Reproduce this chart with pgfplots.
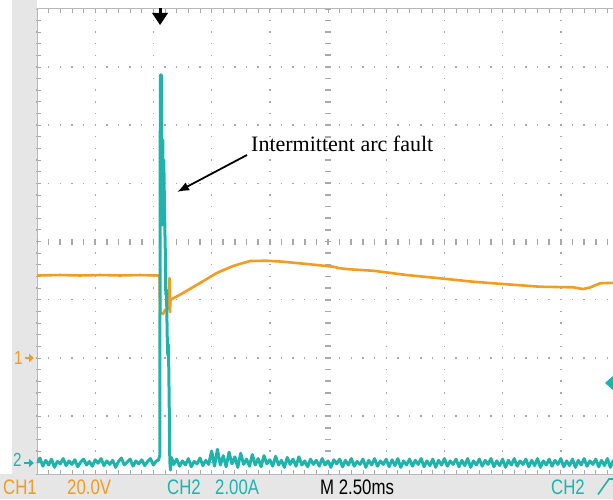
\documentclass[border=0pt]{standalone}
\usepackage{pgfplots}
\pgfplotsset{compat=1.18}
\usepackage{pgfplotstable}
\usepackage{fontspec}
\setmainfont{Liberation Serif}
\newfontfamily\scopefont[FakeStretch=0.8]{Liberation Sans}
\usetikzlibrary{arrows.meta}
\definecolor{ch1}{HTML}{F39C1F}
\definecolor{ch2}{HTML}{1FB3AD}
\definecolor{bezel}{HTML}{E6E6E6}
\definecolor{gridgray}{HTML}{A8A8A8}

% screen units: x and y in divisions (2.50 ms/div, CH1 20.0 V/div, CH2 2.00 A/div)
\pgfplotstableread{
x y
0.000 -0.584
0.395 -0.576
0.739 -0.584
1.082 -0.576
1.426 -0.584
1.770 -0.576
2.079 -0.584
2.105 -0.590
2.113 -1.211
2.165 -1.246
2.199 -1.177
2.250 -1.150
2.277 -0.627
2.285 -1.211
2.294 -1.005
2.320 -0.988
2.509 -0.885
2.801 -0.713
3.088 -0.541
3.368 -0.421
3.660 -0.335
3.947 -0.330
4.227 -0.347
4.519 -0.375
4.806 -0.404
5.086 -0.433
5.206 -0.460
5.378 -0.478
5.773 -0.502
6.352 -0.576
6.924 -0.632
7.491 -0.691
8.070 -0.735
8.643 -0.777
9.210 -0.787
9.381 -0.816
9.502 -0.790
9.674 -0.718
9.950 -0.708
}\chone

\pgfplotstableread{
x y
0.00 -3.80
0.05 -3.72
0.10 -3.86
0.15 -3.76
0.20 -3.84
0.25 -3.74
0.30 -3.88
0.35 -3.78
0.40 -3.82
0.45 -3.73
0.50 -3.85
0.55 -3.77
0.60 -3.83
0.65 -3.75
0.70 -3.87
0.75 -3.79
0.80 -3.74
0.85 -3.84
0.90 -3.78
0.95 -3.86
1.00 -3.75
1.05 -3.81
1.10 -3.73
1.15 -3.85
1.20 -3.77
1.25 -3.83
1.30 -3.76
1.35 -3.88
1.40 -3.78
1.45 -3.72
1.50 -3.84
1.55 -3.79
1.60 -3.74
1.65 -3.86
1.70 -3.77
1.75 -3.82
1.80 -3.75
1.85 -3.85
1.90 -3.78
1.95 -3.73
2.00 -3.84
2.05 -3.77
2.088 -3.754
2.110 -3.668
2.119 2.861
2.136 2.861
2.144 1.572
2.153 0.284
2.162 1.744
2.170 0.455
2.179 1.400
2.191 0.541
2.204 -0.146
2.213 -0.919
2.225 -0.833
2.237 -1.607
2.247 -1.950
2.259 -1.778
2.271 -2.723
2.282 -3.789
2.294 -3.926
2.311 -3.711
2.35 -3.83
2.40 -3.74
2.45 -3.86
2.50 -3.77
2.55 -3.84
2.60 -3.73
2.65 -3.87
2.70 -3.78
2.75 -3.82
2.80 -3.72
2.85 -3.85
2.90 -3.76
2.95 -3.83
3.00 -3.60
3.05 -3.86
3.10 -3.57
3.15 -3.84
3.20 -3.68
3.25 -3.87
3.30 -3.62
3.35 -3.82
3.40 -3.70
3.45 -3.88
3.50 -3.64
3.55 -3.83
3.60 -3.74
3.65 -3.86
3.70 -3.66
3.75 -3.84
3.80 -3.73
3.85 -3.87
3.90 -3.68
3.95 -3.82
4.00 -3.75
4.05 -3.86
4.10 -3.69
4.15 -3.84
4.20 -3.76
4.25 -3.88
4.30 -3.71
4.35 -3.83
4.40 -3.74
4.45 -3.86
4.50 -3.70
4.55 -3.84
4.60 -3.77
4.65 -3.87
4.70 -3.74
4.75 -3.83
4.80 -3.76
4.85 -3.86
4.90 -3.73
4.95 -3.84
5.00 -3.77
5.05 -3.88
5.10 -3.75
5.15 -3.82
5.20 -3.74
5.25 -3.87
5.30 -3.76
5.35 -3.84
5.40 -3.73
5.45 -3.86
5.50 -3.78
5.55 -3.83
5.60 -3.74
5.65 -3.88
5.70 -3.76
5.75 -3.84
5.80 -3.73
5.85 -3.86
5.90 -3.77
5.95 -3.83
6.00 -3.74
6.05 -3.87
6.10 -3.75
6.15 -3.85
6.20 -3.73
6.25 -3.88
6.30 -3.77
6.35 -3.84
6.40 -3.74
6.45 -3.86
6.50 -3.76
6.55 -3.83
6.60 -3.73
6.65 -3.87
6.70 -3.77
6.75 -3.85
6.80 -3.74
6.85 -3.88
6.90 -3.76
6.95 -3.84
7.00 -3.73
7.05 -3.86
7.10 -3.77
7.15 -3.83
7.20 -3.74
7.25 -3.87
7.30 -3.76
7.35 -3.85
7.40 -3.73
7.45 -3.88
7.50 -3.77
7.55 -3.84
7.60 -3.74
7.65 -3.86
7.70 -3.76
7.75 -3.83
7.80 -3.73
7.85 -3.87
7.90 -3.77
7.95 -3.85
8.00 -3.74
8.05 -3.88
8.10 -3.76
8.15 -3.84
8.20 -3.73
8.25 -3.86
8.30 -3.77
8.35 -3.83
8.40 -3.74
8.45 -3.87
8.50 -3.76
8.55 -3.85
8.60 -3.73
8.65 -3.88
8.70 -3.77
8.75 -3.84
8.80 -3.74
8.85 -3.86
8.90 -3.76
8.95 -3.83
9.00 -3.73
9.05 -3.87
9.10 -3.77
9.15 -3.85
9.20 -3.74
9.25 -3.88
9.30 -3.76
9.35 -3.84
9.40 -3.73
9.45 -3.86
9.50 -3.77
9.55 -3.83
9.60 -3.74
9.65 -3.87
9.70 -3.76
9.75 -3.85
9.80 -3.73
9.85 -3.88
9.90 -3.77
9.95 -3.84
}\chtwo

\begin{document}
\begin{tikzpicture}[x=1pt,y=1pt]
\useasboundingbox (0pt,0pt) rectangle (613pt,499pt);
% bezel strips
\fill[bezel] (12pt,24.7pt) rectangle (37pt,499pt);
\fill[bezel] (0pt,0pt) rectangle (613pt,24.7pt);

\begin{axis}[
  at={(37pt,24.7pt)}, anchor=south west,
  scale only axis,
  width=582pt, height=465.6pt,
  xmin=0, xmax=10, ymin=-4, ymax=4,
  xtick={0,...,10}, ytick={-4,...,4},
  minor tick num=4,
  xticklabels={}, yticklabels={},
  tick align=inside, tick pos=both,
  major tick length=4pt, minor tick length=4pt,
  tick style={gridgray, line width=0.8pt},
  axis line style={gridgray!80, line width=0.8pt},
  grid=major,
  grid style={gridgray, line width=1.4pt, dash pattern=on 1.4pt off 10.24pt, dash phase=0.7pt},
]
% centre graticule lines with small bars
\draw[gridgray, line width=6pt, dash pattern=on 1.6pt off 10.04pt, dash phase=0.8pt]
  (axis cs:0,0) -- (axis cs:10,0);
\draw[gridgray, line width=6pt, dash pattern=on 1.6pt off 10.04pt, dash phase=0.8pt]
  (axis cs:5,-4) -- (axis cs:5,4);

\addplot[ch1, line width=2.6pt, line join=round] table[x=x, y=y] {\chone};
\addplot[ch2, line width=3pt, line join=round] table[x=x, y=y] {\chtwo};
\end{axis}

% trigger position marker
\draw[black, line width=3pt] (160pt,491pt) -- (160pt,484pt);
\fill[black] (152pt,486pt) -- (168pt,486pt) -- (160pt,474pt) -- cycle;

% channel ground markers
\node[ch1, anchor=base west, inner sep=0, font=\scopefont\fontsize{19}{19}\selectfont] at (14pt,135pt) {1};
\draw[ch1, line width=2pt, -{Triangle[length=5pt,width=8pt]}] (25pt,141pt) -- (34pt,141pt);
\node[ch2, anchor=base west, inner sep=0, font=\scopefont\fontsize{19}{19}\selectfont] at (13pt,33pt) {2};
\draw[ch2, line width=2pt, -{Triangle[length=5pt,width=8pt]}] (24pt,36pt) -- (34pt,36pt);
% trigger level marker
\fill[ch2] (605pt,116pt) -- (614pt,124pt) -- (614pt,108pt) -- cycle;

% annotation
\node[anchor=base west, inner sep=0, font=\fontsize{22}{22}\selectfont] at (251pt,347pt) {Intermittent arc fault};
\draw[black, line width=1.8pt, -{Latex[length=12pt,width=9pt]}] (247pt,344pt) -- (177pt,307pt);

% readout line
\begin{scope}[every node/.style={anchor=base west, inner sep=0, font=\scopefont\fontsize{21}{21}\selectfont}]
\node[ch1] at (3pt,4.5pt) {CH1};
\node[ch1] at (67pt,4.5pt) {20.0V};
\node[ch2] at (167pt,4.5pt) {CH2};
\node[ch2] at (215pt,4.5pt) {2.00A};
\node[black] at (320pt,4.5pt) {M 2.50ms};
\node[ch2] at (551pt,4.5pt) {CH2};
\end{scope}
\draw[ch2, line width=1.6pt] (598pt,4.5pt) -- (609pt,20pt) -- (616pt,20pt);
\end{tikzpicture}
\end{document}
